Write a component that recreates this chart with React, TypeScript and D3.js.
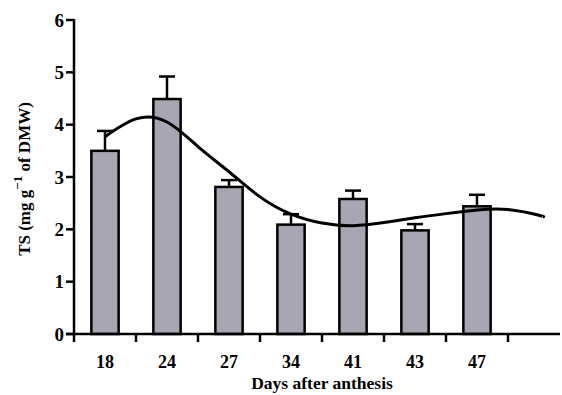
import React from "react";
import * as d3 from "d3";

const categories = ["18", "24", "27", "34", "41", "43", "47"];
const means = [3.5, 4.49, 2.81, 2.09, 2.58, 1.98, 2.44];
const errors = [0.38, 0.43, 0.13, 0.2, 0.16, 0.12, 0.22];
const yTicks = [0, 1, 2, 3, 4, 5, 6];
// fitted curve: position in category-index units and value
const curveIdx = [0, 0.5, 1, 1.5, 2, 2.5, 3, 3.5, 4, 4.5, 5, 5.5, 6, 6.5, 7, 7.06];
const curveVal = [3.77, 4.11, 4.05, 3.58, 3.1, 2.62, 2.29, 2.12, 2.07, 2.13, 2.22, 2.3, 2.37, 2.38, 2.27, 2.24];

const W = 562;
const H = 395;
const left = 74;
const top = 20;
const bottom = 334;
const bandEnd = 508;
const axisEnd = 560;
const font = "Liberation Serif, DejaVu Serif, serif";

export default function App() {
  const x = d3.scaleBand<string>().domain(categories).range([left, bandEnd]).padding(0);
  const y = d3.scaleLinear().domain([0, 6]).range([bottom, top]);
  const bw = x.bandwidth();
  const barW = bw * 0.44;
  const xi = d3
    .scaleLinear()
    .domain([0, categories.length - 1])
    .range([x(categories[0])! + bw / 2, x(categories[categories.length - 1])! + bw / 2]);
  const line = d3
    .line<number>()
    .x((_, i) => xi(curveIdx[i]))
    .y((v) => y(v))
    .curve(d3.curveNatural);
  const boundaries = categories.map((c) => x(c)! + bw);

  return (
    <svg width={W} height={H} style={{ position: "absolute", left: 0, top: 0, background: "#fff" }}>
      {categories.map((c, i) => {
        const cx = x(c)! + bw / 2;
        return (
          <g key={c}>
            <line
              x1={cx}
              x2={cx}
              y1={y(means[i])}
              y2={y(means[i] + errors[i])}
              stroke="#000"
              strokeWidth={2.5}
            />
            <line
              x1={cx - 8}
              x2={cx + 8}
              y1={y(means[i] + errors[i])}
              y2={y(means[i] + errors[i])}
              stroke="#000"
              strokeWidth={2.5}
            />
            <rect
              x={cx - barW / 2}
              y={y(means[i])}
              width={barW}
              height={bottom - y(means[i])}
              fill="#a7a6b2"
              stroke="#000"
              strokeWidth={2.5}
            />
          </g>
        );
      })}
      <path d={line(curveVal) || ""} fill="none" stroke="#000" strokeWidth={3} />
      <line x1={left} x2={left} y1={top - 1} y2={bottom} stroke="#000" strokeWidth={2.5} />
      {yTicks.map((t) => (
        <g key={t}>
          <line x1={left - 8} x2={left} y1={y(t)} y2={y(t)} stroke="#000" strokeWidth={2.5} />
          <text
            x={left - 10}
            y={y(t)}
            dy="0.35em"
            textAnchor="end"
            style={{ fontFamily: font, fontWeight: "bold", fontSize: 19 }}
          >
            {t}
          </text>
        </g>
      ))}
      <line x1={left - 8} x2={axisEnd} y1={bottom} y2={bottom} stroke="#000" strokeWidth={2.5} />
      {boundaries.map((b, i) => (
        <line key={i} x1={b} x2={b} y1={bottom} y2={bottom + 8} stroke="#000" strokeWidth={2.5} />
      ))}
      <line x1={left} x2={left} y1={bottom} y2={bottom + 8} stroke="#000" strokeWidth={2.5} />
      {categories.map((c) => (
        <text
          key={c}
          x={x(c)! + bw / 2}
          y={368}
          textAnchor="middle"
          style={{ fontFamily: font, fontWeight: "bold", fontSize: 18 }}
        >
          {c}
        </text>
      ))}
      <text
        x={322}
        y={389}
        textAnchor="middle"
        style={{ fontFamily: font, fontWeight: "bold", fontSize: 17.5 }}
      >
        Days after anthesis
      </text>
      <text
        transform={`translate(30,${(top + bottom) / 2 + 2}) rotate(-90)`}
        textAnchor="middle"
        style={{ fontFamily: font, fontWeight: "bold", fontSize: 17 }}
      >
        TS (mg g
        <tspan dy={-8} style={{ fontSize: 13 }}>−1</tspan>
        <tspan dy={8}> of DMW)</tspan>
      </text>
    </svg>
  );
}
